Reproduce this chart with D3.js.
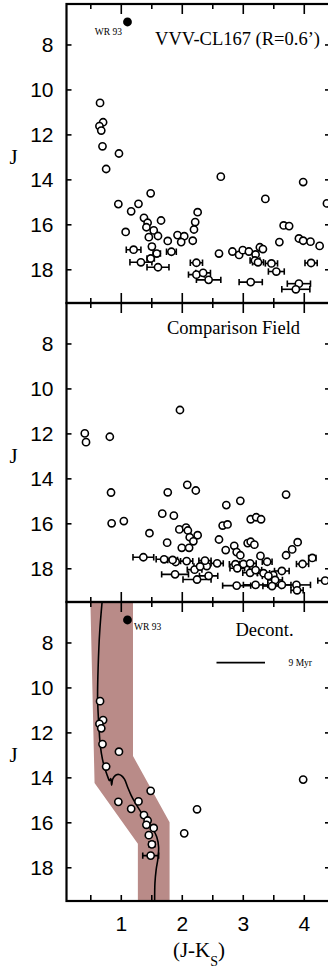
<!DOCTYPE html>
<html><head><meta charset="utf-8">
<script src="https://cdn.jsdelivr.net/npm/d3@7"></script>
<style>
html,body{margin:0;padding:0;background:#fff;overflow:hidden}
svg{display:block;font-family:"Liberation Serif","Times New Roman",Times,serif}
</style></head><body>
<svg id="chart" width="328" height="972"></svg>
<script>
// ---- data: [ (J-Ks), J ] and [ (J-Ks), J, colour error ] ----
const clusterStars = [[0.66,10.60],[0.71,11.46],[0.65,11.63],[0.68,11.83],[0.70,12.53],[0.97,12.85],[0.76,13.54],[2.64,13.88],[3.99,14.12],[1.49,14.62],[3.37,14.87],[4.38,15.07],[0.96,15.10],[1.29,15.09],[1.17,15.42],[2.26,15.46],[1.38,15.71],[1.66,15.83],[1.44,15.93],[2.22,15.90],[1.42,16.13],[1.54,16.27],[1.08,16.34],[2.20,16.23],[3.67,16.05],[3.76,16.08],[1.46,16.57],[1.61,16.52],[1.93,16.48],[2.04,16.53],[1.99,16.79],[1.77,16.74],[2.18,16.73],[3.60,16.79],[3.92,16.63],[3.99,16.73],[4.11,16.77],[4.26,16.96],[2.61,17.30],[2.83,17.21],[2.94,17.36],[3.00,17.15],[3.10,17.21],[3.21,17.34],[3.28,17.02],[3.33,17.10]];
const clusterStarsErr = [[1.51,16.99,0.04],[1.21,17.13,0.12],[1.59,17.30,0.06],[1.83,17.22,0.08],[1.49,17.52,0.06],[1.33,17.69,0.18],[1.61,17.91,0.18],[2.24,17.71,0.10],[2.24,18.24,0.13],[2.35,18.16,0.12],[2.44,18.47,0.20],[3.20,17.61,0.08],[3.25,17.69,0.09],[3.47,17.74,0.10],[3.55,18.10,0.13],[4.12,17.72,0.10],[3.13,18.57,0.19],[3.92,18.64,0.19],[3.87,18.89,0.23]];

const fieldStars = [[0.41,12.00],[0.43,12.39],[0.82,12.15],[1.97,10.96],[0.84,14.63],[0.85,16.00],[1.05,15.90],[1.47,16.44],[1.68,15.57],[1.77,14.62],[2.09,14.29],[2.23,14.54],[1.87,15.66],[2.73,15.19],[2.96,15.00],[3.71,14.72],[1.96,16.27],[2.07,16.19],[2.10,16.32],[2.26,16.53],[2.13,16.62],[2.19,16.80],[1.76,16.86],[2.00,17.09],[2.12,17.09],[2.67,16.10],[2.75,16.05],[2.61,16.72],[2.72,17.19],[3.13,15.82],[3.22,15.73],[3.30,15.82],[3.08,16.88],[3.13,16.82],[3.19,16.95],[2.86,17.00],[2.90,17.28],[2.96,17.42],[3.29,17.45],[3.90,16.84],[3.81,17.16],[3.71,17.42],[1.90,17.72],[2.41,17.90],[3.50,18.30]];
const fieldStarsErr = [[1.37,17.51,0.17],[1.71,17.60,0.13],[1.85,17.63,0.08],[2.08,17.68,0.10],[2.38,17.66,0.10],[2.58,17.78,0.10],[2.88,17.82,0.10],[3.01,17.81,0.06],[3.12,17.78,0.10],[3.40,17.71,0.08],[3.98,17.81,0.10],[4.14,17.54,0.06],[1.89,18.27,0.22],[2.21,18.06,0.12],[2.30,17.92,0.10],[2.25,18.50,0.23],[2.44,18.34,0.15],[2.91,18.00,0.12],[3.12,18.20,0.12],[3.21,18.08,0.10],[3.34,18.22,0.10],[3.42,18.34,0.10],[3.64,18.12,0.12],[3.53,18.52,0.12],[2.90,18.77,0.23],[3.21,18.74,0.20],[3.48,18.79,0.15],[3.64,18.74,0.15],[3.88,18.74,0.23],[3.89,18.98,0.10],[4.35,18.55,0.12]];

const deconStars = [[0.66,10.61],[0.71,11.45],[0.65,11.62],[0.68,11.82],[0.70,12.52],[0.97,12.86],[0.76,13.52],[1.49,14.60],[0.96,15.09],[1.29,15.07],[1.17,15.40],[1.38,15.68],[1.44,15.92],[1.42,16.11],[1.54,16.25],[1.46,16.57],[2.25,15.42],[2.04,16.49],[3.99,14.10]];
const deconStarsErr = [[1.51,16.98,0.05],[1.49,17.48,0.13]];

// WR 93 (filled symbol)
const wrStar = [1.11, 7.0];

// 9 Myr isochrone
const isoColor = [0.70,0.655,0.63,0.62,0.645,0.665,0.70,0.75,0.79,0.815,0.835,0.85,0.865,0.89,0.93,0.97,1.01,1.06,1.11,1.17,1.24,1.32,1.42,1.52,1.59,1.62,1.61,1.58,1.56,1.555];
const isoJ     = [6.0, 7.5, 9.0, 10.5,11.9,12.6,13.2,13.7,14.0,14.15,14.05,14.35,14.1,13.97,13.88,13.87,13.92,14.08,14.42,14.8,15.15,15.5,15.92,16.28,16.65,17.1,17.6,18.1,18.7,19.7];

// colour-filter band (J-Ks, J) outline
const bandColor = [0.50,1.20,1.20,1.80,1.80,1.28,1.28,0.57];
const bandJ     = [6.0, 6.0, 13.05,16.0,19.7,19.7,16.95,14.25];

// axis ticks
const yTicks = [8,10,12,14,16,18];
const xMajor = [1,2,3,4];
const xMinor = [0.5,1.5,2.5,3.5];

const panelTitles = ["VVV-CL167 (R=0.6\u2019)", "Comparison Field", "Decont."];

// ---- layout ----
const svg = d3.select("#chart");
const X0 = 66.5, X1 = 330;
const tops = [4, 303, 602], PH = 299;
const x = d3.scaleLinear().domain([0.11, 4.43]).range([X0, X1]);
const ys = tops.map(t => d3.scaleLinear().domain([6.2, 19.5]).range([t, t + PH]));
const BAND = "rgb(185,139,136)";

ys.forEach((y, i) => {
  svg.append("clipPath").attr("id", "clip" + i)
    .append("rect").attr("x", X0).attr("y", tops[i]).attr("width", X1 - X0).attr("height", PH);
});

function drawStars(g, y, plain, withErr) {
  g.selectAll("line.eb").data(withErr).join("line").attr("class", "eb")
    .attr("x1", d => x(d[0] - d[2])).attr("x2", d => x(d[0] + d[2]))
    .attr("y1", d => y(d[1])).attr("y2", d => y(d[1]))
    .attr("stroke", "#000").attr("stroke-width", 1.6);
  ["l", "r"].forEach(side => {
    g.selectAll("line.cap" + side).data(withErr).join("line").attr("class", "cap" + side)
      .attr("x1", d => x(side === "l" ? d[0] - d[2] : d[0] + d[2]))
      .attr("x2", d => x(side === "l" ? d[0] - d[2] : d[0] + d[2]))
      .attr("y1", d => y(d[1]) - 3.2).attr("y2", d => y(d[1]) + 3.2)
      .attr("stroke", "#000").attr("stroke-width", 1.6);
  });
  g.selectAll("circle.st").data(plain.concat(withErr)).join("circle").attr("class", "st")
    .attr("cx", d => x(d[0])).attr("cy", d => y(d[1])).attr("r", 3.6)
    .attr("fill", "#fff").attr("stroke", "#000").attr("stroke-width", 1.6);
}

const panels = ys.map((y, i) => svg.append("g").attr("clip-path", `url(#clip${i})`));

// panel 3 background: colour-filter band and isochrone
panels[2].append("path")
  .attr("d", d3.line().x(d => x(d[0])).y(d => ys[2](d[1]))(bandColor.map((c, k) => [c, bandJ[k]])) + "Z")
  .attr("fill", BAND);
panels[2].append("path")
  .attr("d", d3.line().curve(d3.curveCatmullRom.alpha(0.5)).x(d => x(d[0])).y(d => ys[2](d[1]))(isoColor.map((c, k) => [c, isoJ[k]])))
  .attr("fill", "none").attr("stroke", "#000").attr("stroke-width", 1.6);

drawStars(panels[0], ys[0], clusterStars, clusterStarsErr);
drawStars(panels[1], ys[1], fieldStars, fieldStarsErr);
drawStars(panels[2], ys[2], deconStars, deconStarsErr);

[0, 2].forEach(i => {
  panels[i].append("circle").attr("cx", x(wrStar[0])).attr("cy", ys[i](wrStar[1])).attr("r", 4.4).attr("fill", "#000");
});
svg.append("text").attr("x", x(wrStar[0]) - 5.5).attr("y", ys[0](wrStar[1]) + 13).attr("text-anchor", "end")
  .attr("font-size", 9.5).text("WR 93");
svg.append("text").attr("x", x(wrStar[0]) + 6.5).attr("y", ys[2](wrStar[1]) + 10).attr("text-anchor", "start")
  .attr("font-size", 9.5).text("WR 93");

// ---- axes ----
function noDomain(g) { g.select(".domain").remove(); g.selectAll("line").attr("stroke-width", 1.6); }

ys.forEach((y, i) => {
  const top = tops[i], bot = top + PH, last = i === 2;
  // x ticks, inward on top and bottom edges
  svg.append("g").attr("transform", `translate(0,${top})`)
    .call(d3.axisBottom(x).tickValues(xMajor).tickSize(10).tickSizeOuter(0).tickFormat("")).call(noDomain);
  svg.append("g").attr("transform", `translate(0,${top})`)
    .call(d3.axisBottom(x).tickValues(xMinor).tickSize(5).tickSizeOuter(0).tickFormat("")).call(noDomain);
  svg.append("g").attr("transform", `translate(0,${bot})`)
    .call(d3.axisTop(x).tickValues(xMajor).tickSize(last ? 6 : 10).tickSizeOuter(0).tickFormat("")).call(noDomain);
  svg.append("g").attr("transform", `translate(0,${bot})`)
    .call(d3.axisTop(x).tickValues(xMinor).tickSize(last ? 6 : 5).tickSizeOuter(0).tickFormat("")).call(noDomain);
  // y axis, labels outside, ticks inward
  const ya = svg.append("g").attr("transform", `translate(${X0},0)`)
    .call(d3.axisLeft(y).tickValues(yTicks).tickSizeInner(-5).tickSizeOuter(0).tickPadding(13).tickFormat(d3.format("d")))
    .call(noDomain);
  ya.selectAll("text").attr("font-size", 21).attr("font-family", null).attr("fill", "#000");
  svg.append("g").attr("transform", `translate(${X1},0)`)
    .call(d3.axisRight(y).tickValues(yTicks).tickSizeInner(-5).tickSizeOuter(0).tickFormat(""))
    .call(noDomain);
  // frame
  svg.append("rect").attr("x", X0).attr("y", top).attr("width", X1 - X0).attr("height", PH)
    .attr("fill", "none").attr("stroke", "#000").attr("stroke-width", 2.2);
  // J label
  svg.append("text").attr("x", 13.5).attr("y", (top + bot) / 2 + 10).attr("text-anchor", "middle")
    .attr("font-size", 21).text("J");
});

const xa = svg.append("g").attr("transform", `translate(0,${tops[2] + PH})`)
  .call(d3.axisBottom(x).tickValues(xMajor).tickSize(0).tickPadding(15).tickFormat(d3.format("d")));
xa.select(".domain").remove();
xa.selectAll("text").attr("font-size", 21).attr("font-family", null).attr("fill", "#000");

const xl = svg.append("text").attr("x", 199).attr("y", 957).attr("text-anchor", "middle").attr("font-size", 21);
xl.append("tspan").text("(J-K");
xl.append("tspan").attr("font-size", 14).attr("dy", 9).text("S");
xl.append("tspan").attr("dy", -9).text(")");

// panel titles
svg.append("text").attr("x", 320).attr("y", 45).attr("text-anchor", "end").attr("font-size", 18.5).text(panelTitles[0]);
svg.append("text").attr("x", 233.5).attr("y", 334).attr("text-anchor", "middle").attr("font-size", 18.5).text(panelTitles[1]);
svg.append("text").attr("x", 264.5).attr("y", 636).attr("text-anchor", "middle").attr("font-size", 18.5).text(panelTitles[2]);

// isochrone legend
svg.append("line").attr("x1", 216.5).attr("x2", 265).attr("y1", 662.7).attr("y2", 662.7)
  .attr("stroke", "#000").attr("stroke-width", 1.8);
svg.append("text").attr("x", 288.5).attr("y", 666).attr("font-size", 9.5).text("9 Myr");
</script>
</body></html>
